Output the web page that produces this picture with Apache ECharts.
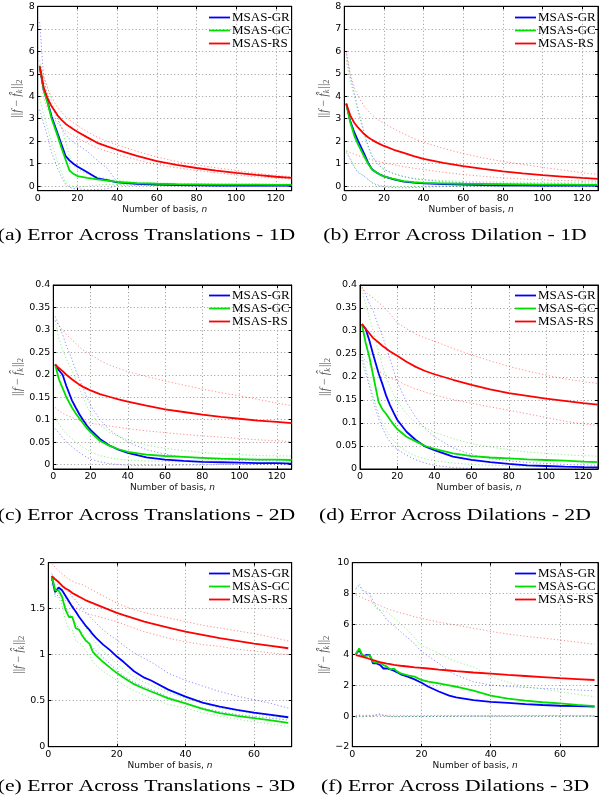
<!DOCTYPE html>
<html><head><meta charset="utf-8">
<script src="https://cdn.jsdelivr.net/npm/echarts@6/dist/echarts.min.js"></script>
<style>html,body{margin:0;padding:0;background:#fff}#c{width:608px;height:806px}</style>
</head><body><div id="c"></div>
<script>
const methods = ['MSAS-GR', 'MSAS-GC', 'MSAS-RS'];
const captions = ['(a) Error Across Translations - 1D', '(b) Error Across Dilation - 1D',
  '(c) Error Across Translations - 2D', '(d) Error Across Dilations - 2D',
  '(e) Error Across Translations - 3D', '(f) Error Across Dilations - 3D'];

// x ticks / y ticks
const xTicks128 = [0, 20, 40, 60, 80, 100, 120];
const xTicks71 = [0, 20, 40, 60];
const yTicks1D = [0, 1, 2, 3, 4, 5, 6, 7, 8];
const yTicks2D = [0, 0.05, 0.1, 0.15, 0.2, 0.25, 0.3, 0.35, 0.4];
const yTicks3Dt = [0, 0.5, 1, 1.5, 2];
const yTicks3Dd = [-2, 0, 2, 4, 6, 8, 10];

// ---- (a) translations 1D
const aN = [1, 3, 5, 7, 10, 12, 14, 16, 18, 20, 25, 30, 35, 40, 50, 60, 70, 80, 90, 100, 110, 120, 128];
const aGR = [5.33, 4.3, 3.75, 3.1, 2.35, 1.85, 1.35, 1.15, 1.0, 0.88, 0.62, 0.35, 0.27, 0.17, 0.1, 0.07, 0.05, 0.04, 0.03, 0.03, 0.03, 0.03, 0.03];
const aGC = [5.33, 4.3, 3.7, 3.0, 2.25, 1.7, 1.2, 0.7, 0.55, 0.45, 0.37, 0.3, 0.25, 0.19, 0.14, 0.11, 0.09, 0.08, 0.07, 0.07, 0.07, 0.06, 0.06];
const aRS = [5.33, 4.4, 3.9, 3.55, 3.15, 2.95, 2.78, 2.65, 2.53, 2.42, 2.17, 1.93, 1.77, 1.62, 1.35, 1.12, 0.95, 0.81, 0.69, 0.59, 0.5, 0.42, 0.37];
const aGRhi = [7.3, 4.8, 4.0, 3.6, 3.0, 2.6, 2.3, 2.1, 1.95, 1.85, 1.55, 1.15, 0.8, 0.2, 0.13, 0.1, 0.08, 0.07, 0.06, 0.06, 0.05, 0.05, 0.05];
const aGRlo = [3.4, 2.8, 2.2, 1.5, 0.8, 0.4, 0.1, -0.05, -0.1, -0.12, -0.15, -0.15, -0.12, 0.05, 0.04, 0.03, 0.02, 0.01, 0.01, 0.01, 0.01, 0.01, 0.01];
const aGChi = [5.6, 4.9, 4.4, 3.8, 3.1, 2.6, 2.0, 1.3, 0.95, 0.75, 0.55, 0.42, 0.32, 0.25, 0.18, 0.15, 0.13, 0.12, 0.11, 0.1, 0.1, 0.1, 0.1];
const aGClo = [3.9, 3.2, 2.6, 1.9, 1.1, 0.6, 0.2, 0.05, -0.02, -0.05, 0.0, 0.05, 0.08, 0.08, 0.07, 0.05, 0.04, 0.03, 0.03, 0.03, 0.03, 0.03, 0.03];
const aRShi = [5.4, 4.85, 4.35, 3.95, 3.5, 3.3, 3.1, 2.95, 2.82, 2.7, 2.42, 2.18, 2.0, 1.84, 1.55, 1.3, 1.1, 0.95, 0.82, 0.7, 0.58, 0.48, 0.42];
const aRSlo = [5.2, 3.95, 3.45, 3.15, 2.8, 2.62, 2.47, 2.35, 2.24, 2.14, 1.92, 1.7, 1.55, 1.42, 1.17, 0.96, 0.82, 0.7, 0.6, 0.5, 0.42, 0.36, 0.33];

// ---- (b) dilation 1D
const bN = [1, 3, 5, 7, 10, 12, 14, 16, 18, 20, 25, 30, 35, 40, 50, 60, 70, 80, 90, 100, 110, 120, 128];
const bGR = [3.67, 2.9, 2.4, 2.0, 1.45, 1.05, 0.75, 0.62, 0.52, 0.44, 0.3, 0.2, 0.16, 0.13, 0.09, 0.07, 0.05, 0.04, 0.04, 0.03, 0.03, 0.03, 0.03];
const bGC = [3.67, 2.85, 2.25, 1.85, 1.33, 1.0, 0.74, 0.62, 0.52, 0.44, 0.32, 0.23, 0.18, 0.15, 0.13, 0.11, 0.1, 0.09, 0.08, 0.07, 0.07, 0.06, 0.06];
const bRS = [3.67, 3.15, 2.82, 2.6, 2.32, 2.18, 2.06, 1.96, 1.87, 1.79, 1.62, 1.48, 1.34, 1.22, 1.04, 0.89, 0.77, 0.66, 0.57, 0.49, 0.43, 0.37, 0.33];
const bGRhi = [5.9, 4.9, 4.15, 3.4, 2.4, 1.8, 1.35, 1.1, 0.9, 0.75, 0.55, 0.42, 0.33, 0.28, 0.2, 0.16, 0.14, 0.12, 0.11, 0.1, 0.1, 0.09, 0.09];
const bGRlo = [1.5, 1.2, 0.85, 0.6, 0.45, 0.3, 0.15, 0.05, 0.0, -0.03, -0.06, -0.07, -0.06, -0.04, -0.02, 0.0, 0.0, 0.0, 0.0, 0.0, 0.0, 0.0, 0.0];
const bGChi = [5.6, 4.7, 4.0, 3.3, 2.3, 1.75, 1.3, 1.05, 0.88, 0.74, 0.56, 0.44, 0.36, 0.3, 0.25, 0.22, 0.2, 0.18, 0.17, 0.16, 0.15, 0.15, 0.15];
const bGClo = [1.6, 1.25, 0.9, 0.65, 0.45, 0.3, 0.18, 0.1, 0.05, 0.02, 0.0, -0.02, -0.02, 0.0, 0.01, 0.01, 0.01, 0.01, 0.01, 0.01, 0.01, 0.01, 0.01];
const bRShi = [6.0, 5.0, 4.4, 4.0, 3.55, 3.35, 3.17, 3.02, 2.9, 2.8, 2.55, 2.33, 2.12, 1.95, 1.68, 1.45, 1.26, 1.1, 0.97, 0.84, 0.72, 0.6, 0.52];
const bRSlo = [1.56, 1.5, 1.43, 1.36, 1.27, 1.22, 1.17, 1.13, 1.08, 1.04, 0.95, 0.87, 0.8, 0.74, 0.62, 0.52, 0.44, 0.37, 0.32, 0.28, 0.25, 0.23, 0.22];

// ---- (c) translations 2D
const cN = [1, 3, 5, 7, 10, 12, 14, 16, 18, 20, 25, 30, 35, 40, 50, 60, 70, 80, 90, 100, 110, 120, 128];
const cGR = [0.223, 0.21, 0.2, 0.175, 0.143, 0.127, 0.112, 0.099, 0.087, 0.077, 0.057, 0.043, 0.033, 0.026, 0.016, 0.011, 0.008, 0.006, 0.005, 0.004, 0.003, 0.003, 0.002];
const cGC = [0.223, 0.19, 0.17, 0.15, 0.127, 0.114, 0.103, 0.092, 0.081, 0.072, 0.053, 0.042, 0.034, 0.028, 0.022, 0.019, 0.017, 0.015, 0.013, 0.012, 0.011, 0.011, 0.01];
const cRS = [0.223, 0.215, 0.208, 0.2, 0.19, 0.184, 0.178, 0.173, 0.169, 0.165, 0.157, 0.151, 0.145, 0.14, 0.131, 0.123, 0.117, 0.111, 0.106, 0.102, 0.098, 0.095, 0.092];
const cGRhi = [0.33, 0.31, 0.29, 0.265, 0.235, 0.21, 0.19, 0.17, 0.15, 0.132, 0.1, 0.078, 0.063, 0.05, 0.033, 0.023, 0.017, 0.013, 0.011, 0.01, 0.009, 0.008, 0.008];
const cGRlo = [0.08, 0.07, 0.06, 0.05, 0.04, 0.033, 0.027, 0.021, 0.016, 0.012, 0.006, 0.002, 0.0, -0.002, -0.002, -0.002, -0.001, -0.001, 0.0, 0.0, 0.0, 0.0, 0.0];
const cGChi = [0.32, 0.28, 0.255, 0.235, 0.21, 0.19, 0.17, 0.15, 0.13, 0.115, 0.088, 0.072, 0.063, 0.055, 0.043, 0.036, 0.031, 0.027, 0.024, 0.022, 0.02, 0.019, 0.019];
const cGClo = [0.105, 0.09, 0.078, 0.068, 0.058, 0.05, 0.044, 0.038, 0.033, 0.028, 0.02, 0.015, 0.012, 0.01, 0.008, 0.007, 0.006, 0.005, 0.005, 0.004, 0.004, 0.004, 0.004];
const cRShi = [0.321, 0.31, 0.3, 0.29, 0.278, 0.27, 0.262, 0.255, 0.25, 0.245, 0.232, 0.222, 0.214, 0.207, 0.196, 0.186, 0.177, 0.168, 0.16, 0.153, 0.145, 0.137, 0.131];
const cRSlo = [0.127, 0.12, 0.114, 0.11, 0.105, 0.101, 0.098, 0.096, 0.094, 0.092, 0.089, 0.086, 0.083, 0.08, 0.075, 0.071, 0.067, 0.064, 0.061, 0.058, 0.055, 0.053, 0.051];

// ---- (d) dilations 2D
const dN = [1, 3, 5, 7, 10, 12, 14, 16, 18, 20, 25, 30, 35, 40, 50, 60, 70, 80, 90, 100, 110, 120, 128];
const dGR = [0.315, 0.305, 0.28, 0.25, 0.208, 0.185, 0.16, 0.14, 0.123, 0.107, 0.081, 0.063, 0.049, 0.041, 0.027, 0.02, 0.015, 0.011, 0.008, 0.0065, 0.005, 0.004, 0.0036];
const dGC = [0.315, 0.275, 0.244, 0.205, 0.146, 0.13, 0.12, 0.108, 0.097, 0.087, 0.07, 0.06, 0.05, 0.044, 0.034, 0.028, 0.025, 0.023, 0.021, 0.0196, 0.018, 0.016, 0.015];
const dRS = [0.315, 0.305, 0.295, 0.285, 0.275, 0.268, 0.262, 0.256, 0.251, 0.246, 0.233, 0.222, 0.213, 0.206, 0.194, 0.183, 0.173, 0.165, 0.159, 0.153, 0.148, 0.143, 0.14];
const dGRhi = [0.396, 0.38, 0.36, 0.345, 0.31, 0.29, 0.265, 0.24, 0.215, 0.19, 0.145, 0.112, 0.088, 0.07, 0.046, 0.031, 0.023, 0.018, 0.014, 0.012, 0.01, 0.009, 0.008];
const dGRlo = [0.237, 0.21, 0.18, 0.15, 0.11, 0.09, 0.073, 0.06, 0.05, 0.043, 0.03, 0.02, 0.013, 0.008, 0.003, 0.001, 0.0, 0.0, 0.0, 0.0, 0.0, 0.0, 0.0];
const dGChi = [0.39, 0.36, 0.33, 0.3, 0.255, 0.225, 0.2, 0.18, 0.163, 0.148, 0.12, 0.1, 0.09, 0.08, 0.066, 0.055, 0.048, 0.042, 0.037, 0.034, 0.031, 0.029, 0.028];
const dGClo = [0.25, 0.22, 0.19, 0.16, 0.12, 0.1, 0.085, 0.072, 0.062, 0.053, 0.038, 0.028, 0.022, 0.018, 0.013, 0.01, 0.008, 0.007, 0.006, 0.005, 0.005, 0.004, 0.004];
const dRShi = [0.393, 0.385, 0.378, 0.372, 0.362, 0.355, 0.347, 0.338, 0.328, 0.318, 0.305, 0.293, 0.285, 0.278, 0.262, 0.248, 0.235, 0.223, 0.213, 0.204, 0.196, 0.19, 0.186];
const dRSlo = [0.244, 0.235, 0.228, 0.221, 0.213, 0.208, 0.203, 0.198, 0.195, 0.192, 0.182, 0.174, 0.167, 0.161, 0.151, 0.143, 0.135, 0.128, 0.12, 0.112, 0.104, 0.098, 0.095];

// ---- (e) translations 3D
const eN = [1, 2, 3, 4, 5, 6, 7, 8, 9, 10, 11, 12, 13, 14, 16, 18, 20, 22, 25, 28, 30, 35, 40, 45, 50, 55, 60, 65, 70];
const eGR = [1.85, 1.68, 1.73, 1.70, 1.64, 1.58, 1.52, 1.47, 1.41, 1.36, 1.31, 1.27, 1.22, 1.18, 1.11, 1.05, 0.98, 0.92, 0.82, 0.75, 0.72, 0.62, 0.545, 0.48, 0.435, 0.4, 0.37, 0.345, 0.32];
const eGC = [1.85, 1.70, 1.70, 1.63, 1.49, 1.41, 1.41, 1.29, 1.27, 1.2, 1.15, 1.12, 1.03, 0.99, 0.92, 0.86, 0.8, 0.75, 0.68, 0.63, 0.6, 0.525, 0.47, 0.41, 0.365, 0.335, 0.31, 0.285, 0.26];
const eRS = [1.855, 1.82, 1.79, 1.75, 1.72, 1.70, 1.67, 1.65, 1.63, 1.61, 1.59, 1.575, 1.56, 1.545, 1.515, 1.485, 1.455, 1.43, 1.395, 1.36, 1.34, 1.295, 1.25, 1.215, 1.18, 1.15, 1.12, 1.095, 1.07];
const eGRhi = [1.88, 1.83, 1.8, 1.76, 1.72, 1.68, 1.63, 1.59, 1.54, 1.5, 1.46, 1.42, 1.38, 1.34, 1.27, 1.21, 1.16, 1.1, 1.02, 0.96, 0.92, 0.8, 0.72, 0.66, 0.6, 0.55, 0.51, 0.47, 0.42];
const eGRlo = [1.81, 1.65, 1.64, 1.58, 1.52, 1.46, 1.40, 1.34, 1.28, 1.23, 1.17, 1.12, 1.08, 1.04, 0.97, 0.9, 0.83, 0.77, 0.7, 0.65, 0.62, 0.54, 0.47, 0.42, 0.38, 0.35, 0.33, 0.31, 0.29];
const eGChi = [1.86, 1.78, 1.76, 1.72, 1.62, 1.56, 1.54, 1.45, 1.42, 1.34, 1.29, 1.25, 1.17, 1.12, 1.04, 0.97, 0.9, 0.84, 0.76, 0.7, 0.67, 0.59, 0.525, 0.47, 0.42, 0.39, 0.36, 0.33, 0.31];
const eGClo = [1.82, 1.63, 1.62, 1.54, 1.37, 1.28, 1.27, 1.15, 1.13, 1.1, 1.04, 1.0, 0.92, 0.88, 0.82, 0.77, 0.72, 0.67, 0.61, 0.56, 0.525, 0.46, 0.42, 0.37, 0.33, 0.3, 0.27, 0.245, 0.22];
const eRShi = [1.99, 1.95, 1.91, 1.88, 1.85, 1.82, 1.80, 1.78, 1.77, 1.76, 1.74, 1.72, 1.70, 1.68, 1.64, 1.6, 1.56, 1.53, 1.49, 1.46, 1.44, 1.4, 1.36, 1.32, 1.29, 1.26, 1.23, 1.19, 1.15];
const eRSlo = [1.76, 1.7, 1.66, 1.62, 1.59, 1.56, 1.53, 1.51, 1.49, 1.47, 1.45, 1.44, 1.43, 1.42, 1.4, 1.38, 1.36, 1.33, 1.29, 1.25, 1.23, 1.18, 1.14, 1.11, 1.09, 1.06, 1.04, 1.02, 1.0];

// ---- (f) dilations 3D
const fN = [1, 2, 3, 4, 5, 6, 7, 8, 9, 10, 11, 12, 13, 14, 16, 18, 20, 22, 25, 28, 30, 35, 40, 45, 50, 55, 60, 65, 70];
const fGR = [4.04, 4.3, 3.9, 3.98, 3.98, 3.43, 3.43, 3.33, 3.1, 3.1, 3.04, 2.96, 2.85, 2.72, 2.57, 2.39, 2.17, 1.91, 1.6, 1.33, 1.22, 1.04, 0.93, 0.86, 0.78, 0.72, 0.67, 0.64, 0.61];
const fGC = [4.04, 4.41, 3.91, 3.93, 3.98, 3.54, 3.48, 3.48, 3.33, 3.22, 3.04, 3.1, 2.9, 2.78, 2.65, 2.57, 2.35, 2.25, 2.13, 2.0, 1.91, 1.65, 1.33, 1.13, 1.0, 0.9, 0.83, 0.73, 0.65];
const fRS = [3.98, 3.92, 3.86, 3.8, 3.72, 3.65, 3.58, 3.52, 3.47, 3.42, 3.38, 3.34, 3.31, 3.28, 3.23, 3.18, 3.14, 3.1, 3.03, 2.97, 2.93, 2.84, 2.76, 2.68, 2.61, 2.54, 2.47, 2.41, 2.35];
const fGRhi = [8.3, 8.5, 8.2, 8.1, 8.0, 7.5, 7.1, 6.9, 6.6, 6.26, 6.1, 5.9, 5.7, 5.5, 5.1, 4.7, 4.2, 3.9, 3.43, 2.9, 2.67, 2.24, 2.02, 1.93, 1.87, 1.8, 1.76, 1.7, 1.65];
const fGRlo = [-0.1, 0.0, -0.05, 0.0, 0.0, 0.0, 0.1, 0.15, 0.05, 0.0, -0.03, -0.05, -0.05, -0.04, -0.04, -0.03, -0.03, -0.03, -0.02, -0.02, -0.02, -0.01, -0.01, -0.01, 0.0, 0.0, 0.0, 0.0, 0.0];
const fGChi = [8.3, 8.65, 8.2, 8.0, 7.8, 7.3, 7.0, 6.9, 6.85, 6.8, 6.6, 6.4, 6.2, 6.0, 5.6, 5.1, 4.6, 4.4, 4.1, 3.75, 3.55, 3.2, 2.57, 2.2, 1.91, 1.75, 1.59, 1.42, 1.26];
const fGClo = [-0.05, 0.05, 0.0, -0.02, 0.02, 0.0, 0.05, 0.1, 0.02, 0.0, -0.02, -0.03, -0.03, -0.02, -0.02, -0.02, -0.02, -0.01, -0.01, -0.01, -0.01, 0.0, 0.0, 0.0, 0.0, 0.0, 0.0, 0.0, 0.0];
const fRShi = [7.9, 7.8, 7.7, 7.6, 7.5, 7.4, 7.3, 7.2, 7.1, 7.0, 6.93, 6.86, 6.79, 6.72, 6.6, 6.48, 6.37, 6.27, 6.12, 6.0, 5.93, 5.72, 5.52, 5.35, 5.2, 5.08, 4.96, 4.82, 4.67];
const fRSlo = [0.05, 0.05, 0.05, 0.05, 0.05, 0.05, 0.05, 0.05, 0.05, 0.05, 0.05, 0.05, 0.05, 0.04, 0.04, 0.04, 0.04, 0.04, 0.04, 0.04, 0.04, 0.04, 0.04, 0.04, 0.04, 0.04, 0.04, 0.04, 0.04];

// ---------- layout / style (not data) ----------
const panels = [
  {n: aN, gr: aGR, gc: aGC, rs: aRS, lo: [aGRlo, aGClo, aRSlo], hi: [aGRhi, aGChi, aRShi],
   grid: {left: 37.7, top: 6.3, width: 254, height: 184.4}, x: [0, 128, xTicks128], y: [-0.2, 8, yTicks1D],
   nameGap: 9, leg: [209, 11], cap: [146.5, 235.5]},
  {n: bN, gr: bGR, gc: bGC, rs: bRS, lo: [bGRlo, bGClo, bRSlo], hi: [bGRhi, bGChi, bRShi],
   grid: {left: 344.3, top: 6.3, width: 253.7, height: 184.4}, x: [0, 128, xTicks128], y: [-0.2, 8, yTicks1D],
   nameGap: 10, leg: [515, 11], cap: [455, 235.5]},
  {n: cN, gr: cGR, gc: cGC, rs: cRS, lo: [cGRlo, cGClo, cRSlo], hi: [cGRhi, cGChi, cRShi],
   grid: {left: 53.3, top: 285, width: 238.4, height: 184}, x: [0, 128, xTicks128], y: [-0.01, 0.4, yTicks2D],
   nameGap: 25, leg: [209, 289], cap: [146.5, 515.5]},
  {n: dN, gr: dGR, gc: dGC, rs: dRS, lo: [dGRlo, dGClo, dRSlo], hi: [dGRhi, dGChi, dRShi],
   grid: {left: 360, top: 285, width: 238, height: 184}, x: [0, 128, xTicks128], y: [0, 0.4, yTicks2D],
   nameGap: 26, leg: [515, 289], cap: [455, 515.5]},
  {n: eN, gr: eGR, gc: eGC, rs: eRS, lo: [eGRlo, eGClo, eRSlo], hi: [eGRhi, eGChi, eRShi],
   grid: {left: 48.3, top: 562.7, width: 243.4, height: 184}, x: [0, 71, xTicks71], y: [0, 2, yTicks3Dt],
   nameGap: 20, leg: [209, 567], cap: [146.5, 786]},
  {n: fN, gr: fGR, gc: fGC, rs: fRS, lo: [fGRlo, fGClo, fRSlo], hi: [fGRhi, fGChi, fRShi],
   grid: {left: 352.3, top: 562.7, width: 245.7, height: 184}, x: [0, 71, xTicks71], y: [-2, 10, yTicks3Dd],
   nameGap: 20, leg: [515, 567], cap: [455, 786]}
];
const colors = ['#0000ff', '#00e000', '#ff0000'];
const gridDash = [1, 2.5];
const tickFont = {fontFamily: 'DejaVu Sans', fontSize: 9.5, color: '#000'};
const fmt = v => (v < 0 ? '\u2212' + (-v) : String(v));
const nameCol = '#555';

const option = {
  animation: false,
  backgroundColor: '#fff',
  grid: [], xAxis: [], yAxis: [], series: [], legend: [], graphic: []
};

panels.forEach((p, gi) => {
  option.grid.push(Object.assign({show: true, borderColor: '#000', borderWidth: 1, containLabel: false, outerBoundsMode: 'none'}, p.grid));
  const baseAxis = (mn, mx, ticks) => ({
    gridIndex: gi, type: 'value', min: mn, max: mx,
    axisLine: {onZero: false, lineStyle: {color: '#000', width: 1}},
    axisTick: {inside: true, length: 3, customValues: ticks, lineStyle: {color: '#000'}},
  });
  option.xAxis.push(Object.assign(baseAxis(p.x[0], p.x[1], p.x[2]), {
    position: 'bottom',
    axisLabel: Object.assign({customValues: p.x[2], margin: 3, formatter: fmt}, tickFont),
    splitLine: {show: true, lineStyle: {type: gridDash, color: '#999', width: 1}},
    name: '{a|Number of basis, }{i|n}', nameLocation: 'middle', nameGap: 14,
    nameTextStyle: {fontFamily: 'DejaVu Sans', fontSize: 9, color: '#111',
      rich: {a: {fontFamily: 'DejaVu Sans', fontSize: 9, color: '#111'}, i: {fontFamily: 'DejaVu Sans', fontStyle: 'italic', fontSize: 9, color: '#111'}}}
  }));
  option.xAxis.push(Object.assign(baseAxis(p.x[0], p.x[1], p.x[2]), {
    position: 'top', axisLabel: {show: false}, splitLine: {show: false}
  }));
  option.yAxis.push(Object.assign(baseAxis(p.y[0], p.y[1], p.y[2]), {
    position: 'left',
    axisLabel: Object.assign({customValues: p.y[2], margin: 3, formatter: fmt}, tickFont),
    splitLine: {show: true, lineStyle: {type: gridDash, color: '#999', width: 1}},
    name: '{n|||}{i|f}{n| \u2212 }{i|f\u0302}{s|k}{n|||}{t|2}', nameLocation: 'middle', nameGap: p.nameGap,
    nameTextStyle: {color: nameCol, fontFamily: 'Liberation Serif', fontSize: 12,
      rich: {
        n: {color: nameCol, fontFamily: 'Liberation Serif', fontSize: 12},
        i: {color: nameCol, fontFamily: 'Liberation Serif', fontStyle: 'italic', fontSize: 12},
        s: {color: nameCol, fontFamily: 'Liberation Serif', fontStyle: 'italic', fontSize: 8.5, padding: [6, 1, 0, 0]},
        t: {color: nameCol, fontFamily: 'Liberation Serif', fontSize: 8.5, padding: [6, 0, 0, 0]}
      }}
  }));
  option.yAxis.push(Object.assign(baseAxis(p.y[0], p.y[1], p.y[2]), {
    position: 'right', axisLabel: {show: false}, splitLine: {show: false}
  }));
  const xi = gi * 2, yi = gi * 2;
  const mk = (name, ys, color, dotted) => ({
    type: 'line', name, xAxisIndex: xi, yAxisIndex: yi, symbol: 'none', silent: true,
    data: p.n.map((x, i) => [x, ys[i]]),
    lineStyle: dotted ? {color, width: 1, type: [1.2, 2.2], opacity: 0.45} : {color, width: 1.8},
    itemStyle: {color}, z: dotted ? 2 : 3
  });
  [0, 1, 2].forEach(k => {
    option.series.push(mk(methods[k] + ' hi', p.hi[k], colors[k], true));
    option.series.push(mk(methods[k] + ' lo', p.lo[k], colors[k], true));
  });
  option.series.push(mk(methods[0], p.gr, colors[0], false));
  option.series.push(mk(methods[1], p.gc, colors[1], false));
  option.series.push(mk(methods[2], p.rs, colors[2], false));
  option.legend.push({
    data: methods, orient: 'vertical', left: p.leg[0], top: p.leg[1], padding: 0,
    icon: 'path://M0,0L21,0L21,1.8L0,1.8Z',
    itemWidth: 21, itemHeight: 12.5, itemGap: 0, selectedMode: false,
    textStyle: {fontFamily: 'Liberation Serif', fontSize: 13, color: '#000', lineHeight: 12.5, padding: [0, 0, 0, -3]}
  });
  option.graphic.push({
    type: 'text', x: p.cap[0], y: p.cap[1], scaleX: 1.24, silent: true,
    style: {text: captions[gi], x: 0, y: 0, align: 'center', verticalAlign: 'middle',
      font: '17.5px "Liberation Serif"', fill: '#000'}
  });
});

const chart = echarts.init(document.getElementById('c'), null, {renderer: 'canvas'});
chart.setOption(option);
</script>
</body></html>
